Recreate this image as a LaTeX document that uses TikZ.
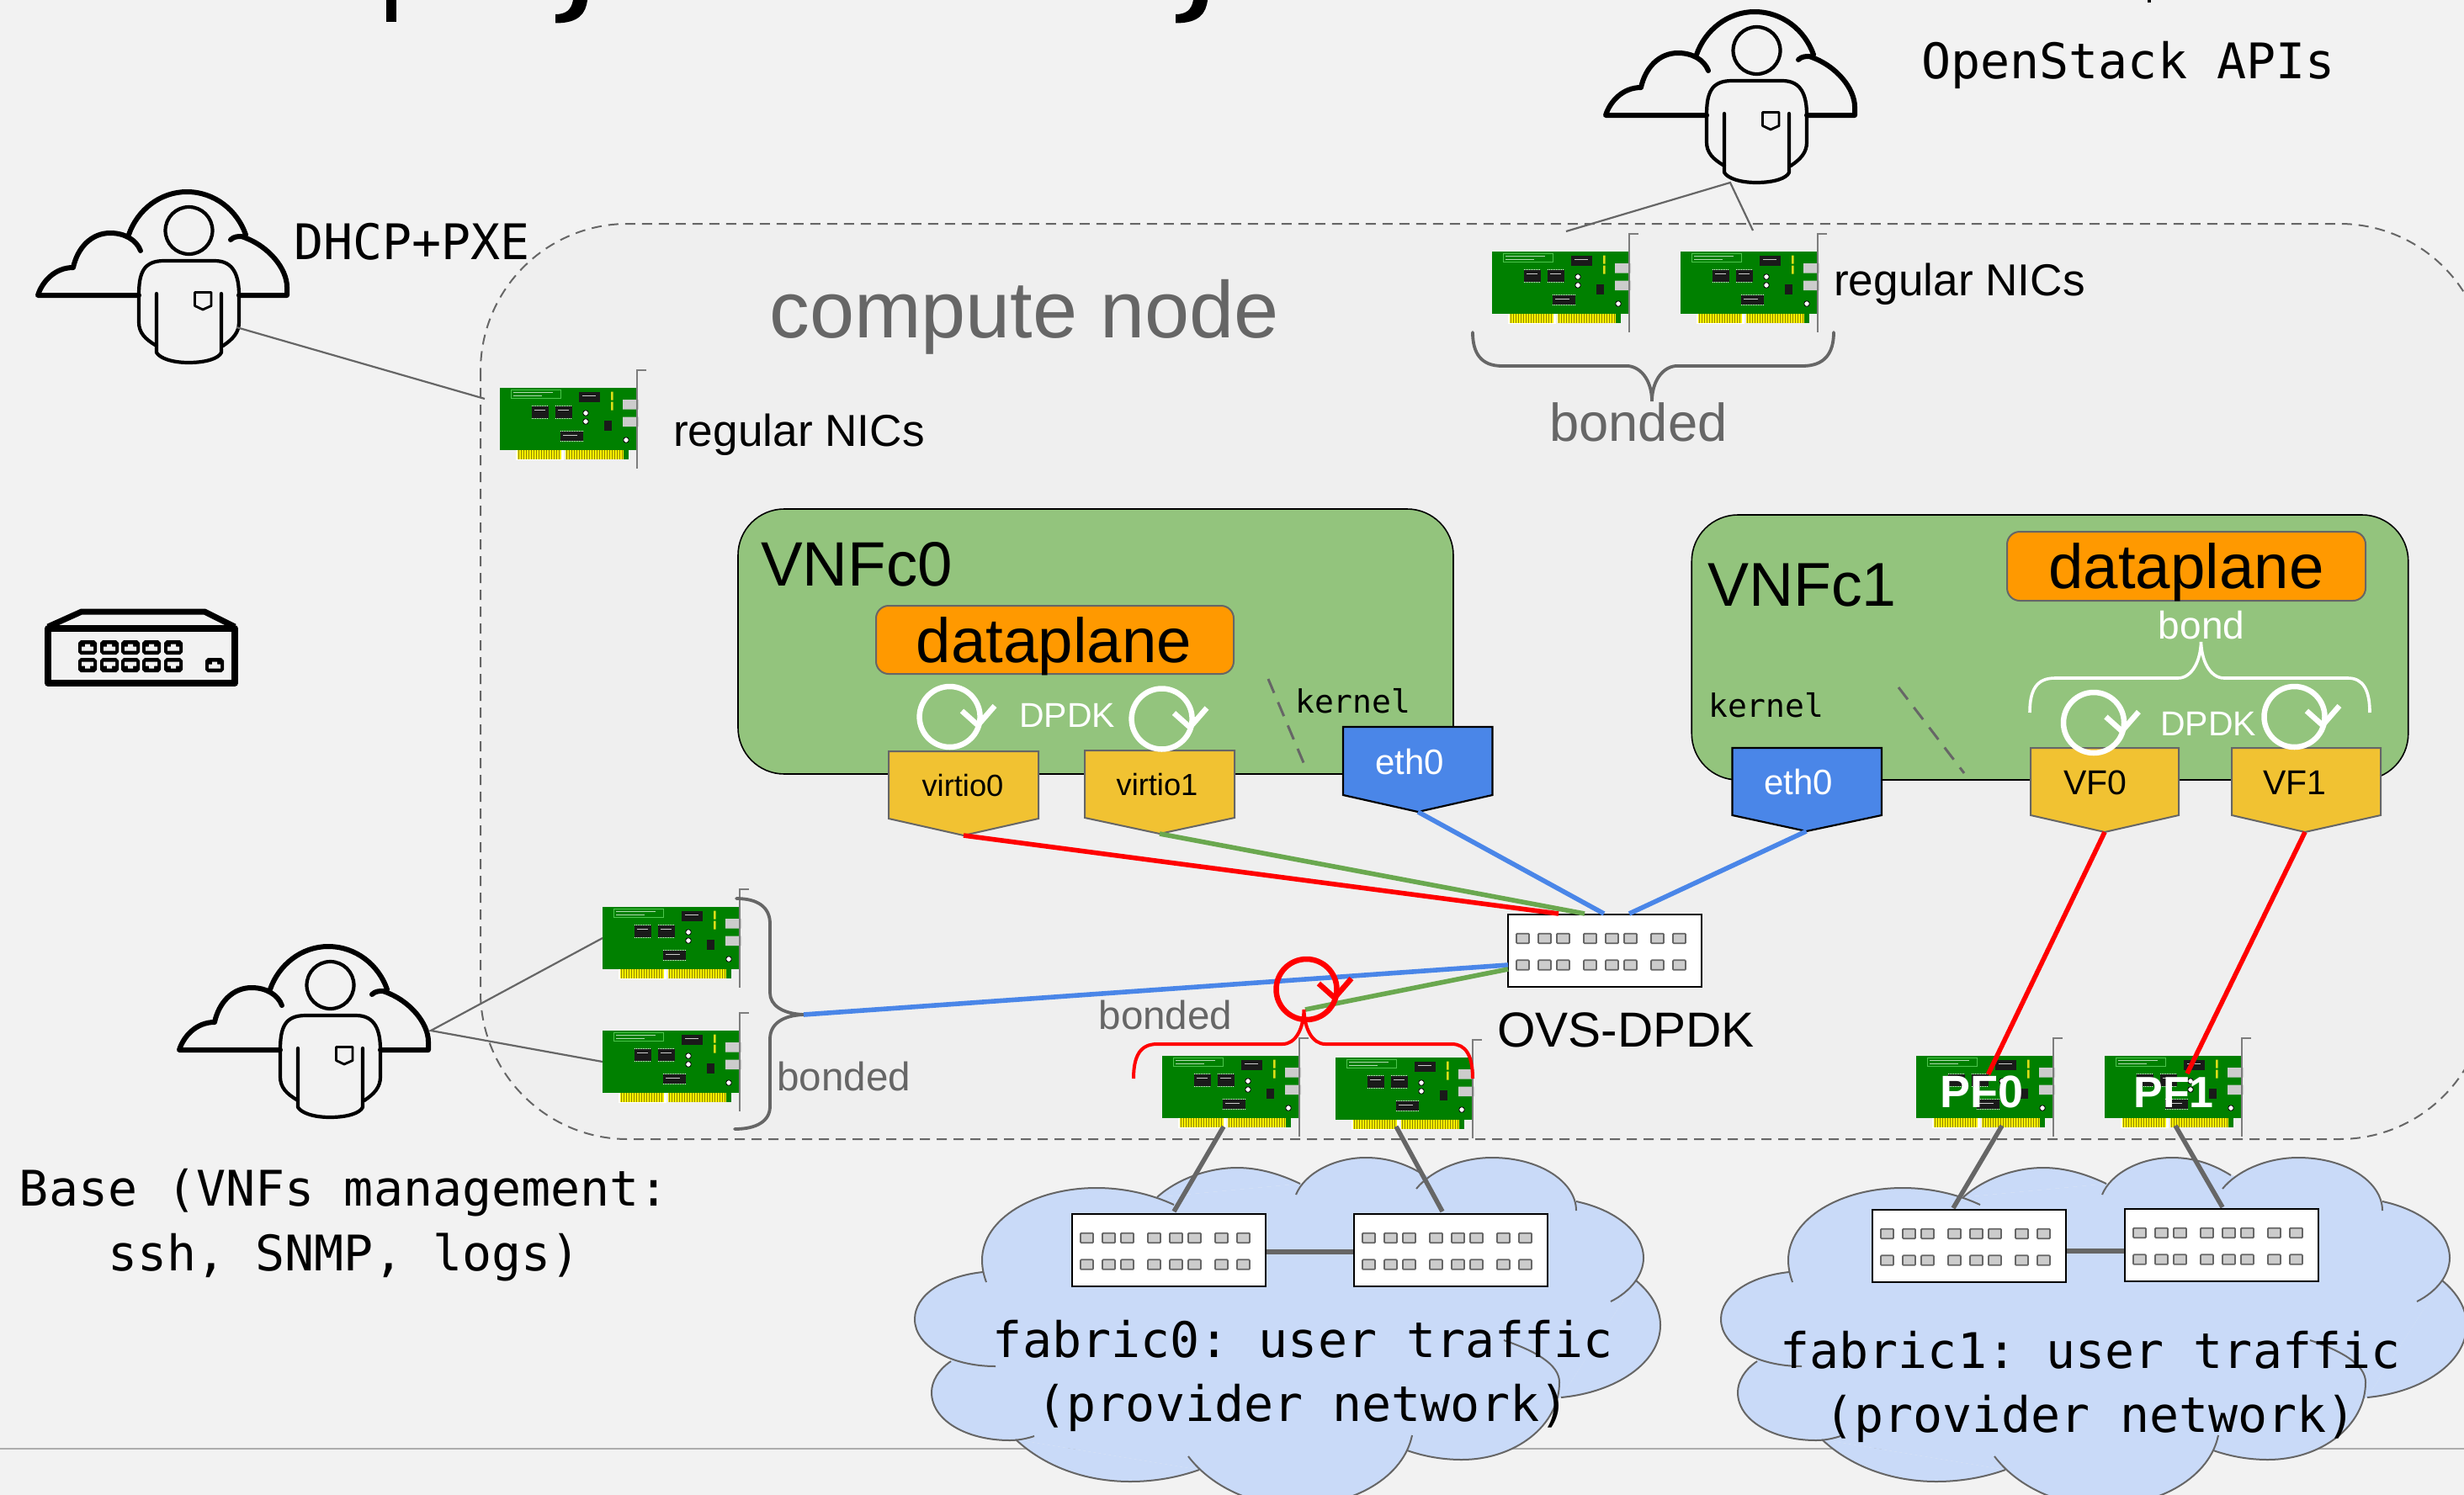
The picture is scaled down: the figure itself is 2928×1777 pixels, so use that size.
\documentclass[tikz,border=0pt]{standalone}
\usepackage{fontspec}
\setmainfont{Liberation Sans}
\setmonofont{DejaVu Sans Mono}
\usetikzlibrary{calc}
\definecolor{bgout}{HTML}{F2F2F2}
\definecolor{bgin}{HTML}{EFEFEF}
\definecolor{vnfgreen}{HTML}{93C47D}
\definecolor{dporange}{HTML}{FF9900}
\definecolor{portyellow}{HTML}{F1C232}
\definecolor{ethblue}{HTML}{4A86E8}
\definecolor{gr}{HTML}{666666}
\definecolor{lkgreen}{HTML}{6AA84F}
\definecolor{cloudblue}{HTML}{C9DAF8}
\definecolor{nicgreen}{HTML}{008000}
\definecolor{chipk}{HTML}{1A1A1A}
\tikzset{
  vnfbox/.style={draw=black,line width=1.6pt,fill=vnfgreen,rounded corners=55pt},
  dpbox/.style={draw=gr,line width=2pt,fill=dporange,rounded corners=15pt},
  yport/.style={draw=gr,line width=2pt,fill=portyellow,line join=miter},
  bport/.style={draw=black,line width=2.2pt,fill=ethblue,line join=miter},
  swbox/.style={draw=black,line width=2.6pt,fill=white,minimum width=230pt,minimum height=86pt,inner sep=0pt,rectangle},
  swport/.style={draw=gr,line width=1.8pt,fill=black!20,rounded corners=1pt},
  nicboard/.style={fill=nicgreen,minimum width=163pt,minimum height=74pt,inner sep=0pt,rectangle},
  thin gray/.style={draw=gr,line width=2.2pt},
  thick gray/.style={draw=gr,line width=5.5pt},
  lk/.style={line width=5.6pt},
  brace gray/.style={draw=gr,line width=3.8pt,line cap=round},
  txt/.style={inner sep=0pt,text=black},
  fcloud/.style={fill=cloudblue},
  scloud/.style={draw=gr,line width=2pt},
  iconc/.style={draw=black,line width=6pt,line cap=round,line join=round},
  iconp/.style={draw=black,line width=4.2pt,line cap=round,line join=round},
}
\newcommand\nicard[3]{%
  \node[nicboard] (#1) at ({#2+81.5},{#3+37}) {};
  \begin{scope}[shift={(#2,#3)}]
    \fill[white] (19,74) rectangle (76,86);
    \fill[nicgreen] (147,74) rectangle (153,85);
    \fill[yellow] (21,74) rectangle (73,85);
    \fill[yellow] (78,74) rectangle (147,85);
    \foreach \s in {22.5,25.5,...,72} {\draw[olive,line width=.7pt] (\s,74) -- (\s,85);}
    \foreach \s in {79.5,82.5,...,146} {\draw[olive,line width=.7pt] (\s,74) -- (\s,85);}
    \draw[green!35!nicgreen!70!white,line width=.8pt] (13.5,2) rectangle (72,12);
    \draw[white!70!nicgreen,line width=.5pt] (16,5) -- (63,5) (16,9.5) -- (50,9.5);
    \fill[chipk] (94,5) rectangle (119,17);
    \fill[chipk] (38,22) rectangle (58,36);
    \fill[chipk] (66,22) rectangle (86,36);
    \fill[chipk] (72,52) rectangle (99,63);
    \fill[chipk] (124,39) rectangle (133,51);
    \draw[white,line width=.7pt,dash pattern=on 1pt off 1pt] (38,21.5) -- (58,21.5) (38,36.5) -- (58,36.5) (66,21.5) -- (86,21.5) (66,36.5) -- (86,36.5) (72,51.5) -- (99,51.5) (72,63.5) -- (99,63.5);
    \draw[white!80!black,line width=.5pt] (98,9) -- (114,9) (41,26) -- (54,26) (69,26) -- (82,26) (75,56) -- (92,56);
    \fill[yellow!85!nicgreen] (132,4.5) rectangle (134.5,14.5) (132,16.5) rectangle (134.5,26.5);
    \filldraw[fill=white,draw=black,line width=.8pt] (102,30) circle (3.3pt) (102,40) circle (3.3pt) (150,62) circle (3.3pt);
    \fill[black!20] (146,14) rectangle (165,25.5) (146,34.5) rectangle (165,46);
    \draw[draw=gr!85,line width=2.4pt] (174,-21) -- (163,-21) -- (163,96);
  \end{scope}}
\newcommand\netswitch[3]{%
  \node[swbox] (#1) at ({#2+115},{#3+43}) {};
  \begin{scope}[shift={(#2,#3)}]
    \foreach \px in {10,36,58,90,116,138,170,196} \foreach \py in {22.7,54.3} {\draw[swport] (\px,\py) rectangle ++(15,11.5);}
  \end{scope}}
\newcommand\cloudperson[2]{%
  \begin{scope}[shift={(#1,#2)}]
    \draw[iconc] (165,351) -- (45,351) .. controls (50,335) and (65,318) .. (87,318) .. controls (92,295) and (108,277) .. (131,277) .. controls (148,277) and (162,285) .. (167,298);
    \draw[iconc] (153,279) .. controls (163,250) and (190,228) .. (222,228) .. controls (255,228) and (282,250) .. (292,279);
    \draw[iconc] (274,285) .. controls (278,281) and (283,281) .. (287,281) .. controls (320,292) and (341,320) .. (341,341) -- (341,351) -- (284,351);
    \draw[iconp] (224.5,274) circle (28pt);
    \draw[iconp] (186,411) .. controls (172,403) and (165,395) .. (165,383) -- (165,351) .. controls (165,325) and (170,310) .. (195,310) -- (255,310) .. controls (278,310) and (284,328) .. (284,351) -- (284,383) .. controls (284,395) and (277,403) .. (265,411);
    \draw[iconp] (186,349) -- (186,419) .. controls (190,426) and (205,431) .. (224,431) .. controls (245,431) and (260,426) .. (263,419) -- (263,349);
    \draw[draw=black,line width=2.8pt,line join=round] (231.5,347.5) -- (251,347.5) -- (251,363.5) -- (241,368) -- (231.5,363.5) -- cycle;
  \end{scope}}
\newcommand\dpdkloop[3]{%
  \begin{scope}[shift={(#1,#2)}]
    \draw[draw=#3,line width=6.5pt] (0,0) circle (36pt);
    \draw[draw=#3,line width=6.5pt,line join=miter] (14.4,-7) -- (33.4,10) -- (53.4,-13);
  \end{scope}}
% name, x0, x1, top, shoulder, tip, tipx, style
\newcommand\portbox[8]{%
  \draw[#8] (#2,#4) -- (#3,#4) -- (#3,#5) -- (#7,#6) -- (#2,#5) -- cycle;
  \coordinate (#1) at (#7,#6);}
\newcommand\fabriccloud[1]{%
  \begin{scope}[shift={(#1,0)}]
    \fill[fcloud] (1375,1423) -- (1545,1407) -- (1693,1397) -- (1873,1428) -- (1944,1522) -- (1855,1661) -- (1672,1724) -- (1425,1747) -- (1207,1711) -- (1130,1618) -- (1168,1512) -- cycle;
    \fill[fcloud] (1395,1432) .. controls (1367,1419) and (1335,1412) .. (1303,1412) .. controls (1230,1412) and (1167,1448) .. (1167,1498) .. controls (1167,1507) and (1169,1516) .. (1172,1524) -- cycle;
    \fill[fcloud] (1168,1512) .. controls (1120,1517) and (1087,1540) .. (1087,1568) .. controls (1087,1600) and (1130,1624) .. (1183,1624) -- cycle;
    \fill[fcloud] (1130,1618) .. controls (1115,1628) and (1107,1642) .. (1107,1655) .. controls (1107,1688) and (1148,1712) .. (1200,1712) .. controls (1210,1712) and (1220,1710) .. (1229,1707) -- cycle;
    \fill[fcloud] (1207,1711) .. controls (1240,1742) and (1288,1761) .. (1343,1761) .. controls (1372,1761) and (1400,1756) .. (1425,1747) -- cycle;
    \fill[fcloud] (1412,1731) .. controls (1440,1768) and (1490,1790) .. (1540,1790) .. controls (1610,1790) and (1668,1755) .. (1678,1706) -- cycle;
    \fill[fcloud] (1672,1724) .. controls (1692,1731) and (1714,1735) .. (1737,1735) .. controls (1800,1735) and (1853,1695) .. (1853,1643) .. controls (1853,1622) and (1825,1606) .. (1787,1593) -- cycle;
    \fill[fcloud] (1855,1661) .. controls (1920,1655) and (1973,1620) .. (1973,1575) .. controls (1973,1555) and (1962,1537) .. (1944,1522) -- cycle;
    \fill[fcloud] (1914,1547) .. controls (1938,1535) and (1953,1515) .. (1953,1495) .. controls (1953,1465) and (1920,1438) .. (1873,1428) -- cycle;
    \fill[fcloud] (1873,1439) .. controls (1873,1405) and (1830,1376) .. (1773,1376) .. controls (1735,1376) and (1700,1392) .. (1683,1413) -- cycle;
    \fill[fcloud] (1693,1397) .. controls (1672,1384) and (1650,1376) .. (1623,1376) .. controls (1585,1376) and (1550,1395) .. (1540,1420) -- cycle;
    \fill[fcloud] (1545,1407) .. controls (1520,1395) and (1495,1388) .. (1470,1388) .. controls (1435,1388) and (1398,1402) .. (1375,1423) -- cycle;
    \draw[scloud] (1395,1432) .. controls (1367,1419) and (1335,1412) .. (1303,1412) .. controls (1230,1412) and (1167,1448) .. (1167,1498) .. controls (1167,1507) and (1169,1516) .. (1172,1524);
    \draw[scloud] (1168,1512) .. controls (1120,1517) and (1087,1540) .. (1087,1568) .. controls (1087,1600) and (1130,1624) .. (1183,1624);
    \draw[scloud] (1130,1618) .. controls (1115,1628) and (1107,1642) .. (1107,1655) .. controls (1107,1688) and (1148,1712) .. (1200,1712) .. controls (1210,1712) and (1220,1710) .. (1229,1707);
    \draw[scloud] (1207,1711) .. controls (1240,1742) and (1288,1761) .. (1343,1761) .. controls (1372,1761) and (1400,1756) .. (1425,1747);
    \draw[scloud] (1412,1731) .. controls (1440,1768) and (1490,1790) .. (1540,1790) .. controls (1610,1790) and (1668,1755) .. (1678,1706);
    \draw[scloud] (1672,1724) .. controls (1692,1731) and (1714,1735) .. (1737,1735) .. controls (1800,1735) and (1853,1695) .. (1853,1643) .. controls (1853,1622) and (1825,1606) .. (1787,1593);
    \draw[scloud] (1855,1661) .. controls (1920,1655) and (1973,1620) .. (1973,1575) .. controls (1973,1555) and (1962,1537) .. (1944,1522);
    \draw[scloud] (1914,1547) .. controls (1938,1535) and (1953,1515) .. (1953,1495) .. controls (1953,1465) and (1920,1438) .. (1873,1428);
    \draw[scloud] (1873,1439) .. controls (1873,1405) and (1830,1376) .. (1773,1376) .. controls (1735,1376) and (1700,1392) .. (1683,1413);
    \draw[scloud] (1693,1397) .. controls (1672,1384) and (1650,1376) .. (1623,1376) .. controls (1585,1376) and (1550,1395) .. (1540,1420);
    \draw[scloud] (1545,1407) .. controls (1520,1395) and (1495,1388) .. (1470,1388) .. controls (1435,1388) and (1398,1402) .. (1375,1423);
  \end{scope}}
\newcommand\rjport[3]{% x center, y center, direction (1 top row, -1 bottom row)
  \fill[black] ({#1-8},{#2-8.5}) -- ({#1+8},{#2-8.5}) -- ({#1+11},{#2-5.5}) -- ({#1+11},{#2+5.5}) -- ({#1+8},{#2+8.5}) -- ({#1-8},{#2+8.5}) -- ({#1-11},{#2+5.5}) -- ({#1-11},{#2-5.5}) -- cycle;
  \fill[bgout] ({#1-7},{#2+#3*4}) -- ({#1+7},{#2+#3*4}) -- ({#1+7},{#2-#3*1}) -- ({#1+3},{#2-#3*1}) -- ({#1+3},{#2-#3*4}) -- ({#1-3},{#2-#3*4}) -- ({#1-3},{#2-#3*1}) -- ({#1-7},{#2-#3*1}) -- cycle;}
\begin{document}
\begin{tikzpicture}[x=1pt,y=-1pt]
\useasboundingbox (0,0) rectangle (2928,1777);
\clip (0,0) rectangle (2928,1777);
\fill[bgout] (0,0) rectangle (2928,1777);
% cropped title fragments
\fill[black] (459,0) rectangle (471,26);
\fill[black] (681,0) -- (698,0) .. controls (696,16) and (688,27.5) .. (660,27.5) -- (660,17) .. controls (672,17) and (679,12) .. (681,0) -- cycle;
\fill[black] (1418,0) -- (1435,0) .. controls (1433,16) and (1425,27.5) .. (1397,27.5) -- (1397,17) .. controls (1409,17) and (1416,12) .. (1418,0) -- cycle;
\fill[black] (2552,0) rectangle (2556,3);
% bottom rule
\draw[draw=black!32,line width=2.2pt] (0,1722) -- (2928,1722);
% compute node
\draw[draw=gr,line width=2pt,fill=bgin,dash pattern=on 12pt off 8pt,rounded corners=175pt] (571,266) rectangle (2955,1354);
% clouds
\fabriccloud{0}
\fabriccloud{958}
% people
\cloudperson{0}{0}
\cloudperson{168}{897}
\cloudperson{1863}{-214}
% NICs
\nicard{nicL}{594}{461}
\nicard{nicT0}{1773}{299}
\nicard{nicT1}{1997}{299}
\nicard{nicB0}{716}{1078}
\nicard{nicB1}{716}{1225}
\nicard{nicC0}{1381}{1255}
\nicard{nicC1}{1587}{1257}
\nicard{nicP0}{2277}{1255}
\nicard{nicP1}{2501}{1255}
% management connectors
\coordinate (u0out) at (281,389);
\coordinate (nicLin) at (576,474);
\coordinate (u2out) at (2056,217);
\coordinate (nicT0in) at (1861,275);
\coordinate (nicT1in) at (2083,274);
\coordinate (u1out) at (512,1225);
\coordinate (nicB0in) at (716,1115);
\coordinate (nicB1in) at (716,1262);
\draw[thin gray] (u0out) -- (nicLin);
\draw[thin gray] (nicT0in) -- (u2out) -- (nicT1in);
\draw[thin gray] (nicB0in) -- (u1out) -- (nicB1in);
% braces
\draw[brace gray] (1750,395) .. controls (1750,420) and (1760,435) .. (1785,435) -- (1935,435) .. controls (1952,437) and (1963,455) .. (1963,477) .. controls (1963,455) and (1974,437) .. (1991,435) -- (2142,435) .. controls (2168,435) and (2179,420) .. (2179,395);
\draw[brace gray] (875,1068) .. controls (900,1068) and (915,1078) .. (915,1098) -- (915,1180) .. controls (915,1195) and (930,1205) .. (955,1206) .. controls (930,1207) and (915,1217) .. (915,1235) -- (915,1315) .. controls (915,1332) and (900,1342) .. (873,1342);
% VNFc boxes
\node[vnfbox,minimum width=850pt,minimum height=315pt,inner sep=0pt,rectangle] (vnf0) at (1302,762.5) {};
\node[vnfbox,minimum width=851.5pt,minimum height=315pt,inner sep=0pt,rectangle] (vnf1) at (2436,769.5) {};
\node[dpbox,minimum width=425pt,minimum height=81pt,inner sep=0pt,rectangle] (dp0) at (1253.5,760.5) {};
\node[dpbox,minimum width=426pt,minimum height=82pt,inner sep=0pt,rectangle] (dp1) at (2598,673) {};
% kernel separators
\coordinate (k0a) at (1507,807);
\coordinate (k0b) at (1553,916);
\coordinate (k1a) at (2256,817);
\coordinate (k1b) at (2334,919);
\draw[draw=gr,line width=3pt,dash pattern=on 18pt off 12pt] (k0a) -- (k0b);
\draw[draw=gr,line width=3pt,dash pattern=on 18pt off 12pt] (k1a) -- (k1b);
% ports
\portbox{vt0}{1056}{1234}{893}{973}{993}{1145}{yport}
\portbox{vt1}{1289}{1467}{892}{972}{991}{1378}{yport}
\portbox{et0}{1596}{1773.5}{864}{945}{965}{1685}{bport}
\portbox{et1}{2058.5}{2236}{889}{969}{988}{2146.5}{bport}
\portbox{vf0}{2413}{2589}{889}{969}{989}{2501}{yport}
\portbox{vf1}{2652}{2829}{889}{969}{989}{2739}{yport}
% white brace
\draw[draw=white,line width=3.6pt] (2412,847) .. controls (2412,820) and (2420,806) .. (2442,806) -- (2588,806) .. controls (2605,806) and (2615,785) .. (2615.5,763) .. controls (2616,785) and (2626,806) .. (2643,806) -- (2790,806) .. controls (2808,806) and (2816,820) .. (2816,847);
% loops
\dpdkloop{1128.6}{852}{white}
\dpdkloop{1380.6}{854.5}{white}
\dpdkloop{2488}{859}{white}
\dpdkloop{2726.5}{852}{white}
% switches
\netswitch{ovs}{1792}{1087}
\netswitch{sw0a}{1274}{1443}
\netswitch{sw0b}{1609}{1443}
\netswitch{sw1a}{2225}{1438}
\netswitch{sw1b}{2525}{1437}
% fabric links
\coordinate (lv0) at (0,1488);
\coordinate (lv1) at (0,1487);
\draw[thick gray] (sw0a.east |- lv0) -- (sw0b.west |- lv0);
\draw[thick gray] (sw1a.east |- lv1) -- (sw1b.west |- lv1);
\coordinate (c0out) at (1454,1339);
\coordinate (c1out) at (1659,1339);
\coordinate (p0out) at (2379,1338);
\coordinate (p1out) at (2585,1338);
\coordinate (s0ain) at (1395,1440);
\coordinate (s0bin) at (1714,1440);
\coordinate (s1ain) at (2321,1436);
\coordinate (s1bin) at (2641,1435);
\draw[thick gray] (c0out) -- (s0ain);
\draw[thick gray] (c1out) -- (s0bin);
\draw[thick gray] (p0out) -- (s1ain);
\draw[thick gray] (p1out) -- (s1bin);
% data-plane links
\coordinate (ovsR) at (1852,1086);
\coordinate (ovsG) at (1883,1086);
\coordinate (ovsB0) at (1906,1086);
\coordinate (ovsB1) at (1936,1086);
\coordinate (ovsWb) at (1792,1147);
\coordinate (ovsWg) at (1792,1152);
\coordinate (btip) at (955,1206);
\coordinate (gtip) at (1551,1200);
\coordinate (pf0in) at (2362.5,1277);
\coordinate (pf1in) at (2599,1276);
\draw[lk,draw=red] (vt0) -- (ovsR);
\draw[lk,draw=lkgreen] (vt1) -- (ovsG);
\draw[lk,draw=ethblue] (et0) -- (ovsB0);
\draw[lk,draw=ethblue] (et1) -- (ovsB1);
\draw[lk,draw=ethblue] (btip) -- (ovsWb);
\draw[lk,draw=lkgreen] (gtip) -- (ovsWg);
\draw[lk,draw=red] (vf0) -- (pf0in);
\draw[lk,draw=red] (vf1) -- (pf1in);
% red bond
\draw[draw=red,line width=4pt] (1347,1282) .. controls (1347,1255) and (1355,1241) .. (1375,1241) -- (1524,1241) .. controls (1540,1241) and (1549,1222) .. (1549.5,1200) .. controls (1550,1222) and (1559,1241) .. (1575,1241) -- (1725,1241) .. controls (1742,1241) and (1750,1255) .. (1750,1282);
\dpdkloop{1552.5}{1176}{red}
% texts
\node[txt,anchor=base west,font=\fontsize{58.3}{70}\selectfont\ttfamily] (tDhcp) at (349,308) {DHCP+PXE};
\node[txt,anchor=base west,font=\fontsize{58.3}{70}\selectfont\ttfamily] (tOs) at (2283,93) {OpenStack APIs};
\node[txt,align=center,font=\fontsize{58.3}{77}\selectfont\ttfamily] (tBase) at (409,1456) {Base (VNFs management:\\ssh, SNMP, logs)};
\node[txt,align=center,font=\fontsize{58.3}{76}\selectfont\ttfamily] (tF0) at (1548.5,1635) {fabric0: user traffic\\(provider network)};
\node[txt,align=center,font=\fontsize{58.3}{76}\selectfont\ttfamily] (tF1) at (2484,1648) {fabric1: user traffic\\(provider network)};
\node[txt,anchor=base,text=gr,font=\fontsize{95.5}{110}\selectfont] (tCn) at (1217,401) {compute node};
\node[txt,anchor=base west,font=\fontsize{53.2}{60}\selectfont] (tReg0) at (800,530) {regular NICs};
\node[txt,anchor=base west,font=\fontsize{53.2}{60}\selectfont] (tReg1) at (2179,351) {regular NICs};
\node[txt,anchor=base,text=gr,font=\fontsize{63.3}{70}\selectfont] (tBd0) at (1947,524) {bonded};
\node[txt,anchor=base,text=gr,font=\fontsize{47.6}{55}\selectfont] (tBd1) at (1385,1223) {bonded};
\node[txt,anchor=base west,text=gr,font=\fontsize{47.6}{55}\selectfont] (tBd2) at (923,1296) {bonded};
\node[txt,anchor=base west,font=\fontsize{74.5}{85}\selectfont] (tV0) at (904,696) {VNFc0};
\node[txt,anchor=base west,font=\fontsize{73.5}{85}\selectfont] (tV1) at (2029,720) {VNFc1};
\node[txt,anchor=base,font=\fontsize{74.5}{85}\selectfont] (tDp0) at (1252.5,787) {dataplane};
\node[txt,anchor=base,font=\fontsize{74.5}{85}\selectfont] (tDp1) at (2598,699) {dataplane};
\node[txt,anchor=base,font=\fontsize{36.3}{42}\selectfont] (tVt0) at (1144,946) {virtio0};
\node[txt,anchor=base,font=\fontsize{36.3}{42}\selectfont] (tVt1) at (1375,945) {virtio1};
\node[txt,anchor=base,text=white,font=\fontsize{42}{50}\selectfont] (tE0) at (1675,920) {eth0};
\node[txt,anchor=base,text=white,font=\fontsize{42}{50}\selectfont] (tE1) at (2137,944) {eth0};
\node[txt,anchor=base,font=\fontsize{41}{50}\selectfont] (tVf0) at (2490,944) {VF0};
\node[txt,anchor=base,font=\fontsize{41}{50}\selectfont] (tVf1) at (2727,944) {VF1};
\node[txt,anchor=base,text=white,font=\fontsize{41}{50}\selectfont] (tD0) at (1268,864) {DPDK};
\node[txt,anchor=base,text=white,font=\fontsize{41}{50}\selectfont] (tD1) at (2624,874) {DPDK};
\node[txt,anchor=base,text=white,font=\fontsize{46}{55}\selectfont] (tBond) at (2616,759) {bond};
\node[txt,anchor=base west,font=\fontsize{38}{45}\selectfont\ttfamily] (tK0) at (1539,847) {kernel};
\node[txt,anchor=base west,font=\fontsize{38}{45}\selectfont\ttfamily] (tK1) at (2030,852) {kernel};
\node[txt,anchor=base west,font=\fontsize{58.5}{70}\selectfont] (tOvs) at (1779,1244) {OVS-DPDK};
\node[txt,anchor=base,text=white,font=\fontsize{54}{60}\selectfont\bfseries] (tP0) at (2355,1316) {PF0};
\node[txt,anchor=base,text=white,font=\fontsize{52}{60}\selectfont\bfseries] (tP1) at (2583,1316) {PF1};
% rack switch icon
\draw[draw=black,line width=7.5pt,line join=round] (57,747) rectangle (279,812);
\draw[draw=black,line width=7pt,line join=round] (57,745) -- (97,727) -- (243,727) -- (279,745);
\foreach \cx in {104,130,155,180,206} {\rjport{\cx}{769.5}{1}\rjport{\cx}{790.5}{-1}}
\rjport{255}{790.5}{1}
\end{tikzpicture}
\end{document}
